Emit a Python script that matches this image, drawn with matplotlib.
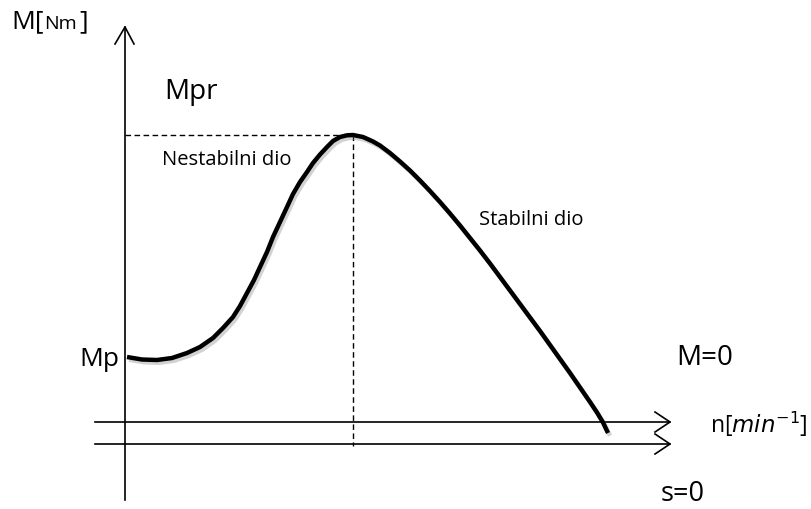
import matplotlib
matplotlib.use("Agg")
import matplotlib.pyplot as plt
import matplotlib.patheffects as pe

# Curve M(n) (pixel-like units, y grows downward)
curve_n = [127, 142, 157, 172, 187, 200, 213, 223, 233, 240, 247, 254, 260, 267, 273, 280, 287,
           293, 300, 307, 313, 320, 327, 333, 340, 347, 353, 363, 373, 380, 390, 400, 410, 420,
           430, 440, 450, 460, 470, 480, 490, 500, 510, 520, 530, 540, 550, 560, 570, 580,
           590, 597, 603, 608]
curve_M = [357, 359.5, 360, 358, 353, 347, 338, 328, 317, 306, 293, 280, 267, 252, 237, 222, 207,
           194, 182, 172, 163, 154.5, 147, 141, 137, 135.3, 135, 137, 141.5, 145.5, 153, 161.5, 170.5, 180.5,
           191, 202, 213.5, 225.5, 238, 250.5, 263.5, 277, 290.5, 304, 317.5, 331, 345, 359, 373, 387.5,
           402, 412.5, 422.5, 433]

axis_x = 125
peak_n, peak_M = 353, 135
line1_y, line2_y = 422, 444

plt.rcParams['font.family'] = ['Open Sans', 'DejaVu Sans']
fig = plt.figure(figsize=(8.11, 5.09), dpi=100)
ax = fig.add_axes([0, 0, 1, 1])
ax.set_xlim(0, 811)
ax.set_ylim(509, 0)
ax.axis('off')

lw_axis = 1.2
# vertical axis with open arrow head
ax.plot([axis_x, axis_x], [500, 27], color='black', lw=lw_axis)
ax.plot([115, axis_x, 134], [44, 27, 44], color='black', lw=lw_axis)

# two horizontal arrows
for y in (line1_y, line2_y):
    ax.plot([95, 670], [y, y], color='black', lw=lw_axis)
    ax.plot([655, 670, 655], [y - 10, y, y + 10], color='black', lw=lw_axis)

# dashed guide lines to the peak
ax.plot([axis_x, peak_n], [peak_M, peak_M], color='black', lw=1.0, ls=(0, (4, 2.5)))
ax.plot([peak_n, peak_n], [peak_M, 446], color='black', lw=1.0, ls=(0, (4, 2.5)))

# characteristic curve
ax.plot(curve_n, curve_M, color='black', lw=3.2, solid_capstyle='butt', solid_joinstyle='round',
        path_effects=[pe.SimpleLineShadow(offset=(1.5, -2), shadow_color='gray', alpha=0.35),
                      pe.Normal()])

# labels
ax.text(11, 22, 'M[', fontsize=19, va='center', ha='left')
ax.text(44, 24, 'Nm', fontsize=14, va='center', ha='left')
ax.text(79, 22, ']', fontsize=19, va='center', ha='left')
ax.text(164, 92, 'Mpr', fontsize=20, va='center', ha='left')
ax.text(162, 160, 'Nestabilni dio', fontsize=14.5, va='center', ha='left')
ax.text(479, 220, 'Stabilni dio', fontsize=14.5, va='center', ha='left')
ax.text(79, 360, 'Mp', fontsize=19, va='center', ha='left')
ax.text(676, 358, 'M=0', fontsize=20, va='center', ha='left')
ax.text(710, 424, r'n[$min^{-1}$]', fontsize=16.5, va='center', ha='left')
ax.text(661, 494, 's=0', fontsize=19.5, va='center', ha='left')

fig.savefig('out.png', dpi=100)
